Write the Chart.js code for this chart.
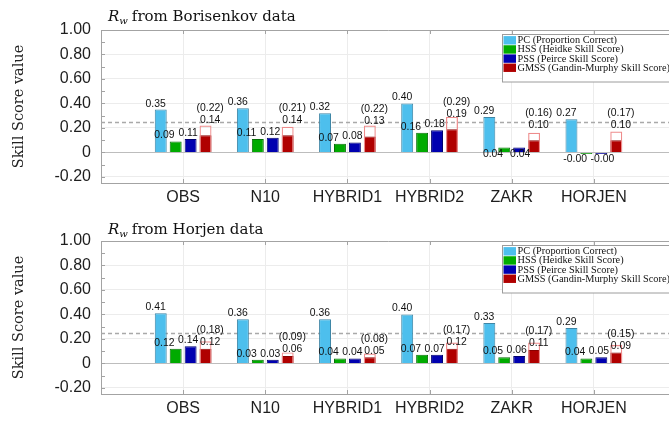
<!DOCTYPE html>
<html>
<head>
<meta charset="utf-8">
<script src="https://cdn.jsdelivr.net/npm/chart.js@4/dist/chart.umd.min.js"></script>
<style>
  html, body { margin: 0; padding: 0; background: #fff; overflow: hidden; width: 669px; height: 421px; }
  canvas { display: block; }
</style>
</head>
<body>
<canvas id="borisenkov" width="676" height="211"></canvas>
<canvas id="horjen" width="676" height="210"></canvas>
<script>
// Forecast systems on the x axis
const categories = ['OBS', 'N10', 'HYBRID1', 'HYBRID2', 'ZAKR', 'HORJEN'];

// Horizontal grid every 0.1, labelled every 0.2
const yGridValues = [-0.2, -0.1, 0, 0.1, 0.2, 0.3, 0.4, 0.5, 0.6, 0.7, 0.8, 0.9, 1.0];
const chanceLevel = 0.25;

// Rw from Borisenkov data
const borisenkovPC   = [0.35, 0.36, 0.32, 0.40, 0.29, 0.27];
const borisenkovHSS  = [0.09, 0.11, 0.07, 0.16, 0.04, -0.002];
const borisenkovPSS  = [0.11, 0.12, 0.08, 0.18, 0.04, -0.002];
const borisenkovGMSS = [0.14, 0.14, 0.13, 0.19, 0.10, 0.10];
const borisenkovGMSSBound = [0.22, 0.21, 0.22, 0.29, 0.16, 0.17];

// Rw from Horjen data
const horjenPC   = [0.41, 0.36, 0.36, 0.40, 0.33, 0.29];
const horjenHSS  = [0.12, 0.03, 0.04, 0.07, 0.05, 0.04];
const horjenPSS  = [0.14, 0.03, 0.04, 0.07, 0.06, 0.05];
const horjenGMSS = [0.12, 0.06, 0.05, 0.12, 0.11, 0.09];
const horjenGMSSBound = [0.18, 0.09, 0.08, 0.17, 0.17, 0.15];

const seriesNames = [
  'PC (Proportion Correct)',
  'HSS (Heidke Skill Score)',
  'PSS (Peirce Skill Score)',
  'GMSS (Gandin-Murphy Skill Score)'
];
const seriesColors = ['#4DBFED', '#00AB00', '#0000B0', '#B00000'];
const seriesEdges  = ['#3F86A6', '#087008', '#00006E', '#8A0000'];
const boundColor = '#EE8C8C';

const AXIS_COLOR = '#A3A3A3';
const GRID_COLOR = '#ECECEC';
const TEXT_COLOR = '#1E1E1E';
const PLOT_TOP = 30, PLOT_HEIGHT = 153, PLOT_LEFT = 101;

const xy = arr => arr.map((v, i) => ({ x: i + 1, y: v }));
const fmt = v => v.toFixed(2);

function makePanel(canvasId, p) {
  const canvas = document.getElementById(canvasId);
  const H = canvas.height;

  const decorations = {
    id: 'decorations_' + canvasId,
    beforeDatasetsDraw(chart) {
      const { ctx, chartArea: a, scales: { y } } = chart;
      const yy = Math.round(y.getPixelForValue(chanceLevel)) + 0.5;
      ctx.save();
      ctx.strokeStyle = '#A9A9A9';
      ctx.lineWidth = 1.4;
      ctx.setLineDash([4, 3]);
      ctx.beginPath();
      ctx.moveTo(a.left, yy);
      ctx.lineTo(a.right, yy);
      ctx.stroke();
      ctx.restore();
    },
    afterDatasetsDraw(chart) {
      const { ctx, chartArea: a, scales: { x, y } } = chart;
      ctx.save();

      // frame top edge and inward tick marks
      ctx.strokeStyle = AXIS_COLOR;
      ctx.lineWidth = 1;
      ctx.beginPath();
      ctx.moveTo(a.left, a.top + 0.5);
      ctx.lineTo(a.right, a.top + 0.5);
      yGridValues.forEach(v => {
        const py = Math.round(y.getPixelForValue(v)) + 0.5;
        ctx.moveTo(a.left, py);
        ctx.lineTo(a.left + 4, py);
      });
      categories.forEach((c, i) => {
        const px = Math.round(x.getPixelForValue(i + 1)) + 0.5;
        ctx.moveTo(px, a.bottom);
        ctx.lineTo(px, a.bottom - 4);
        ctx.moveTo(px, a.top);
        ctx.lineTo(px, a.top + 4);
      });
      ctx.stroke();

      // value labels
      ctx.fillStyle = '#111';
      ctx.font = '10.4px "Liberation Sans", Arial, sans-serif';
      ctx.textAlign = 'center';
      ctx.textBaseline = 'middle';
      const top = v => y.getPixelForValue(Math.max(v, 0));
      categories.forEach((c, i) => {
        const cx = x.getPixelForValue(i + 1);
        ctx.fillText(fmt(p.pc[i]), cx - 27.5, top(p.pc[i]) - 5.8);
        const hang = p.hangingLabels.includes(c);
        ctx.fillText(fmt(p.hss[i]), cx - 18.7, hang ? top(p.hss[i]) + 6.8 : top(p.hss[i]) - 6);
        ctx.fillText(fmt(p.pss[i]), hang ? cx + 8.5 : cx + 5, hang ? top(p.pss[i]) + 6.8 : top(p.pss[i]) - 6);
        const gy = top(p.gmss[i]) - p.gmssLift;
        ctx.fillText(fmt(p.gmss[i]), cx + 27, gy);
        const by = Math.min(top(p.bound[i]) - 10, gy - 12);
        ctx.fillText('(' + fmt(p.bound[i]) + ')', cx + 27, by);
      });

      // legend box
      const lx = 502.5, ly = 34.5;
      ctx.fillStyle = '#fff';
      ctx.fillRect(lx, ly, 200, 47.5);
      ctx.strokeStyle = '#9C9C9C';
      ctx.strokeRect(lx, ly, 200, 47.5);
      ctx.font = '10.3px "Liberation Serif", "Times New Roman", serif';
      ctx.textAlign = 'left';
      seriesNames.forEach((name, k) => {
        const ry = 40.3 + k * 9.15;
        ctx.fillStyle = seriesColors[k];
        ctx.fillRect(503.5, ry - 4.2, 12.5, 8.4);
        ctx.fillStyle = '#111';
        ctx.fillText(name, 517.5, ry + 0.3);
      });
      ctx.restore();
    },
    afterDraw(chart) {
      const { ctx, chartArea: a } = chart;
      ctx.save();
      ctx.fillStyle = '#111';
      ctx.textBaseline = 'alphabetic';
      ctx.textAlign = 'left';
      // panel title with subscripted R_w
      let tx = 108;
      ctx.font = 'italic 15px "DejaVu Serif", serif';
      ctx.fillText('R', tx, p.titleBaseline);
      tx += ctx.measureText('R').width;
      ctx.font = 'italic 10px "DejaVu Serif", serif';
      ctx.fillText('w', tx, p.titleBaseline + 3);
      tx += ctx.measureText('w').width + 4;
      ctx.font = '15px "DejaVu Serif", serif';
      ctx.fillText(p.title, tx, p.titleBaseline);
      // y axis title
      ctx.translate(19, (a.top + a.bottom) / 2);
      ctx.rotate(-Math.PI / 2);
      ctx.font = '14.5px "DejaVu Serif", serif';
      ctx.textAlign = 'center';
      ctx.textBaseline = 'middle';
      ctx.fillStyle = '#222';
      ctx.fillText('Skill Score value', 0, 0);
      ctx.restore();
    }
  };

  return new Chart(canvas, {
    type: 'bar',
    data: {
      datasets: [
        { label: seriesNames[0], data: xy(p.pc), backgroundColor: seriesColors[0], borderColor: seriesEdges[0], borderWidth: 1, stack: 'pc' },
        { label: seriesNames[1], data: xy(p.hss), backgroundColor: seriesColors[1], borderColor: seriesEdges[1], borderWidth: 1, stack: 'hss', minBarLength: 1.5 },
        { label: seriesNames[2], data: xy(p.pss), backgroundColor: seriesColors[2], borderColor: seriesEdges[2], borderWidth: 1, stack: 'pss', minBarLength: 1.5 },
        { label: 'GMSS bound', data: xy(p.bound), backgroundColor: 'rgba(0,0,0,0)', borderColor: boundColor, borderWidth: 1.2, stack: 'gmss' },
        { label: seriesNames[3], data: xy(p.gmss), backgroundColor: seriesColors[3], borderColor: seriesEdges[3], borderWidth: 1, stack: 'gmss' }
      ]
    },
    options: {
      responsive: false,
      animation: false,
      devicePixelRatio: 1,
      categoryPercentage: 0.727,
      barPercentage: 0.8,
      layout: { padding: { top: PLOT_TOP, left: 0, right: 0, bottom: 0 } },
      plugins: { legend: { display: false }, tooltip: { enabled: false }, title: { display: false } },
      scales: {
        x: {
          type: 'linear',
          min: 0,
          max: 7,
          offset: false,
          grid: { offset: false, color: GRID_COLOR, drawTicks: false },
          border: { display: true, color: AXIS_COLOR, width: 1 },
          afterBuildTicks: s => { s.ticks = categories.map((c, i) => ({ value: i + 1 })); },
          afterFit: s => { s.height = H - PLOT_TOP - PLOT_HEIGHT; },
          ticks: {
            autoSkip: false, maxRotation: 0, padding: 5,
            color: TEXT_COLOR,
            font: { family: '"Liberation Sans", Arial, sans-serif', size: 16 },
            callback: v => categories[Math.round(v) - 1] ?? ''
          }
        },
        y: {
          min: -0.25,
          max: 1.0,
          stacked: false,
          grid: {
            drawTicks: false,
            color: c => (Math.abs(c.tick.value) < 1e-9 ? '#BDBDBD' : GRID_COLOR)
          },
          border: { display: true, color: AXIS_COLOR, width: 1 },
          afterBuildTicks: s => { s.ticks = yGridValues.map(v => ({ value: v })); },
          afterFit: s => { s.width = PLOT_LEFT; },
          ticks: {
            padding: 10,
            color: TEXT_COLOR,
            font: { family: '"Liberation Sans", Arial, sans-serif', size: 16 },
            callback: v => {
              const tenth = Math.round(v * 10);
              if (tenth % 2 !== 0) return '';
              return tenth === 0 ? '0' : (tenth / 10).toFixed(2);
            }
          }
        }
      }
    },
    plugins: [decorations]
  });
}

makePanel('borisenkov', {
  title: 'from Borisenkov data', titleBaseline: 21,
  pc: borisenkovPC, hss: borisenkovHSS, pss: borisenkovPSS,
  gmss: borisenkovGMSS, bound: borisenkovGMSSBound,
  hangingLabels: ['ZAKR', 'HORJEN'], gmssLift: 15.5
});
makePanel('horjen', {
  title: 'from Horjen data', titleBaseline: 23,
  pc: horjenPC, hss: horjenHSS, pss: horjenPSS,
  gmss: horjenGMSS, bound: horjenGMSSBound,
  hangingLabels: [], gmssLift: 6.5
});
</script>
</body>
</html>
